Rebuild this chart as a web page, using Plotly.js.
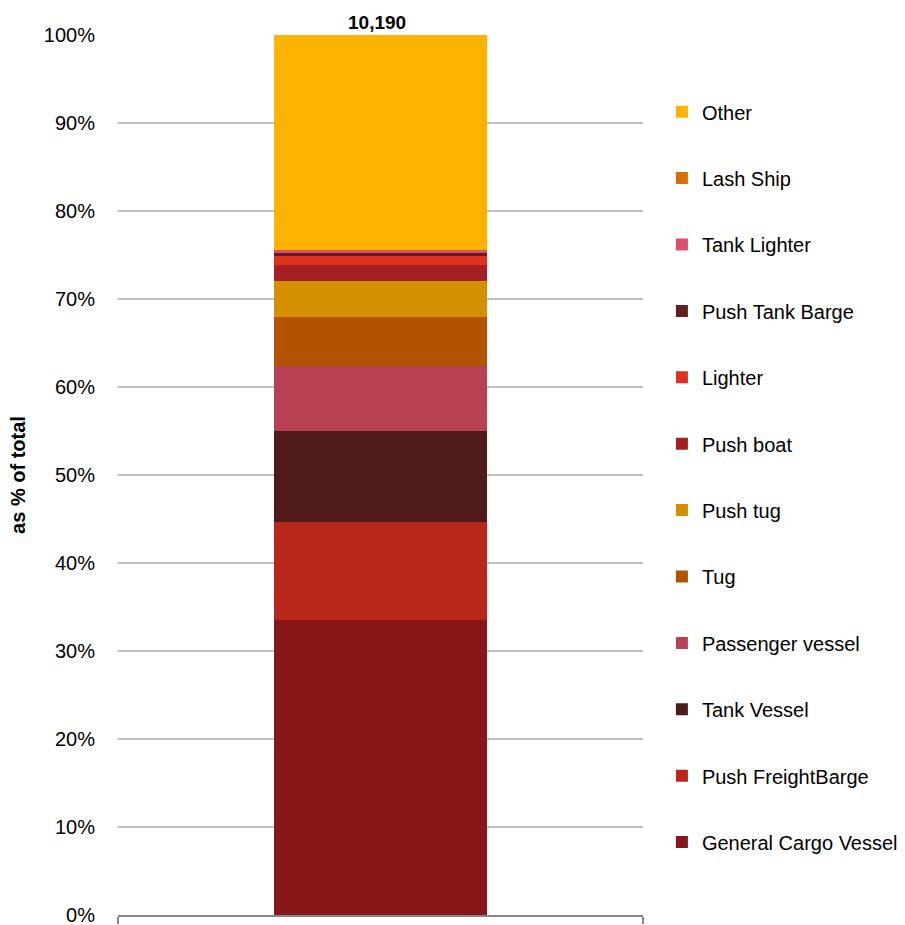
<!DOCTYPE html>
<html>
<head>
<meta charset="utf-8">
<script src="https://cdn.plot.ly/plotly-3.0.1.min.js"></script>
<style>html,body{margin:0;padding:0;background:#fff;}#chart{width:905px;height:925px;}</style>
</head>
<body>
<div id="chart"></div>
<script>
// Series, bottom to top of the stack
const seriesNames = ["General Cargo Vessel","Push FreightBarge","Tank Vessel","Passenger vessel","Tug","Push tug","Push boat","Lighter","Push Tank Barge","Tank Lighter","Lash Ship","Other"];
const shares = [33.52, 11.14, 10.34, 7.39, 5.57, 4.09, 1.82, 1.02, 0.34, 0.34, 0.03, 24.40]; // % of total
const colors = ["#88171A","#B9261A","#4F1A19","#B84254","#B35200","#D39000","#A61F22","#E03020","#5E2020","#DC4F6E","#E06C00","#FFB300"];
const category = [""];
const totalLabel = ["10,190"];
const yTicks = [0,10,20,30,40,50,60,70,80,90,100];
const yTickText = yTicks.map(v => v + "%");

const font = "Liberation Sans, Arial, sans-serif";

const traces = seriesNames.map((n, i) => ({
  type: "bar",
  name: n,
  x: category,
  y: [shares[i]],
  marker: {color: colors[i], line: {width: 0}},
  width: 0.404,
  legendgroup: "g" + i,
  legendrank: seriesNames.length - i,
  hoverinfo: "name+y"
}));

const layout = {
  width: 905, height: 925,
  margin: {l: 118, r: 262, t: 35, b: 10, autoexpand: false},
  paper_bgcolor: "#fff", plot_bgcolor: "#fff",
  barmode: "stack",
  font: {family: font, size: 20, color: "#000"},
  showlegend: true,
  legend: {
    x: 1.036, xanchor: "left", y: 0.935, yanchor: "top",
    traceorder: "grouped", tracegroupgap: 37.4,
    font: {family: font, size: 20, color: "#000"},
    bgcolor: "rgba(0,0,0,0)", borderwidth: 0, valign: "middle"
  },
  xaxis: {
    type: "category", range: [-0.5, 0.5],
    showticklabels: false, showgrid: false, zeroline: false,
    showline: true, linecolor: "#868686", linewidth: 2,
    ticks: "outside", tickson: "boundaries", ticklen: 7, tickcolor: "#868686", tickwidth: 2
  },
  yaxis: {
    range: [0, 100], tickvals: yTicks, ticktext: yTickText,
    showgrid: true, gridcolor: "#C0C0C0", gridwidth: 2,
    zeroline: false, showline: false, ticks: "", ticklabelstandoff: 22,
    ticklabeloverflow: "allow",
    tickfont: {family: font, size: 20, color: "#000"},
    title: {text: "<b>as % of total</b>", font: {family: font, size: 20, color: "#000"}, standoff: 12}
  },
  annotations: [{
    x: category[0], y: 100, xref: "x", yref: "y",
    text: "<b>" + totalLabel[0] + "</b>", showarrow: false,
    yanchor: "bottom", yshift: 0, xshift: -4,
    font: {family: font, size: 19, color: "#000"}
  }]
};

Plotly.newPlot("chart", traces, layout, {displayModeBar: false, staticPlot: true});
</script>
</body>
</html>
